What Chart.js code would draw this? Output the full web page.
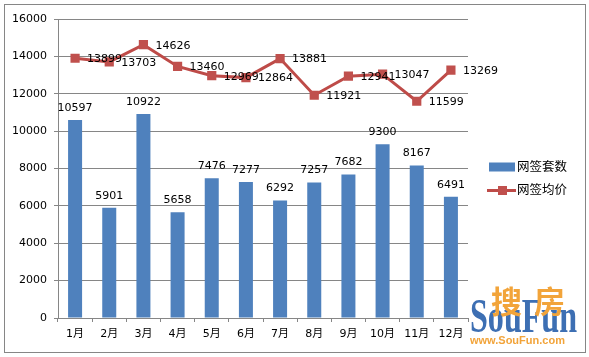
<!DOCTYPE html>
<html><head><meta charset="utf-8">
<script src="https://cdn.jsdelivr.net/npm/chart.js@4.4.1/dist/chart.umd.min.js"></script>
<style>
html,body{margin:0;padding:0;background:#fff;}
#wrap{position:relative;width:589px;height:357px;overflow:hidden;}
#c{position:absolute;left:0;top:0;}
.wm{position:absolute;white-space:nowrap;line-height:1;}
#wm1{left:491px;top:284px;font-family:"Noto Sans CJK SC";font-weight:bold;font-size:31px;color:#f2a43a;letter-spacing:12px;}
#wm2{left:470px;top:291px;font-family:"Liberation Serif";font-weight:bold;font-size:49px;color:#3d6fb3;transform:scaleX(0.655);transform-origin:left top;}
#wm3{left:470px;top:335px;font-family:"Liberation Sans";font-weight:bold;font-size:11px;color:#f2a43a;}
</style></head>
<body>
<div id="wrap">
<canvas id="c" width="589" height="357"></canvas>
<div class="wm" id="wm2">SouFun</div>
<div class="wm" id="wm1">搜房</div>
<div class="wm" id="wm3">www.SouFun.com</div>
</div>
<script>
const categories = ['1月','2月','3月','4月','5月','6月','7月','8月','9月','10月','11月','12月'];
const salesCount = [10597,5901,10922,5658,7476,7277,6292,7257,7682,9300,8167,6491];
const avgPrice = [13899,13703,14626,13460,12969,12864,13881,11921,12941,13047,11599,13269];
const yTicks = [0,2000,4000,6000,8000,10000,12000,14000,16000];
const seriesNames = ['网签套数','网签均价'];

const BAR = '#4f81bd', LINE = '#be4b48', MARK = '#c0504d', GRID = '#868686';
const FONT = {family:'"DejaVu Sans", "Noto Sans CJK SC"', size:11};

const frame = {
  id:'frame',
  beforeDraw(chart){
    const c = chart.ctx;
    c.save();
    c.fillStyle = '#fff';
    c.fillRect(0,0,chart.width,chart.height);
    c.strokeStyle = GRID; c.lineWidth = 1;
    c.strokeRect(4.5,4.5,581,348);
    c.restore();
  }
};

const labels = {
  id:'valueLabels',
  afterDatasetsDraw(chart){
    const c = chart.ctx;
    c.save();
    c.font = '11px "DejaVu Sans"';
    c.fillStyle = '#000';
    chart.data.datasets.forEach((ds,di)=>{
      const meta = chart.getDatasetMeta(di);
      meta.data.forEach((el,i)=>{
        const v = String(ds.data[i]);
        if (meta.type === 'bar') {
          c.textAlign = 'center'; c.textBaseline = 'alphabetic';
          c.fillText(v, el.x, el.y - 9);
        } else {
          c.textAlign = 'left'; c.textBaseline = 'middle';
          c.fillText(v, el.x + 12, el.y + 1);
        }
      });
    });
    c.restore();
  }
};

const legend = {
  id:'sideLegend',
  afterDraw(chart){
    const c = chart.ctx, a = chart.chartArea;
    const x0 = a.right + 21;
    const yc = (a.top + a.bottom)/2;
    c.save();
    c.font = '12.5px "Noto Sans CJK SC"';
    c.textAlign = 'left'; c.textBaseline = 'middle';
    c.fillStyle = BAR;
    c.fillRect(x0, yc - 6, 26, 9);
    c.fillStyle = '#000';
    c.fillText(chart.data.datasets[0].label, x0 + 28, yc - 2);
    const y2 = yc + 22;
    c.strokeStyle = LINE; c.lineWidth = 3;
    c.beginPath(); c.moveTo(x0 - 2, y2); c.lineTo(x0 + 27, y2); c.stroke();
    c.fillStyle = MARK;
    c.fillRect(x0 + 9, y2 - 4.5, 9, 9);
    c.fillStyle = '#000';
    c.fillText(chart.data.datasets[1].label, x0 + 28, y2 - 1);
    c.restore();
  }
};

new Chart(document.getElementById('c'), {
  data:{
    labels: categories,
    datasets:[
      {type:'bar', label:seriesNames[0], data:salesCount, backgroundColor:BAR,
       categoryPercentage:1, barPercentage:0.41, order:2},
      {type:'line', label:seriesNames[1], data:avgPrice, borderColor:LINE, borderWidth:3,
       pointStyle:'rect', pointRadius:6.5, pointBackgroundColor:MARK, pointBorderColor:MARK,
       pointBorderWidth:0, tension:0, order:1}
    ]
  },
  options:{
    responsive:false, animation:false, devicePixelRatio:1,
    layout:{padding:{top:19,right:121,left:0,bottom:0}},
    plugins:{legend:{display:false}, tooltip:{enabled:false}},
    scales:{
      x:{offset:true,
         grid:{display:true, drawOnChartArea:false, drawTicks:true, tickLength:4, color:GRID, offset:true},
         border:{display:true, color:GRID},
         ticks:{font:FONT, color:'#000', padding:6, maxRotation:0, autoSkip:false},
         afterFit(s){ s.height = 39; }},
      y:{min:0, max:16000,
         afterBuildTicks(s){ s.ticks = yTicks.map(v=>({value:v})); },
         grid:{color:GRID, tickLength:4, drawTicks:true},
         border:{display:true, color:GRID},
         ticks:{font:FONT, color:'#000', padding:7, callback:(v)=>String(v)},
         afterFit(s){ s.width = 58; }}
    }
  },
  plugins:[frame, labels, legend]
});
</script>
</body></html>
